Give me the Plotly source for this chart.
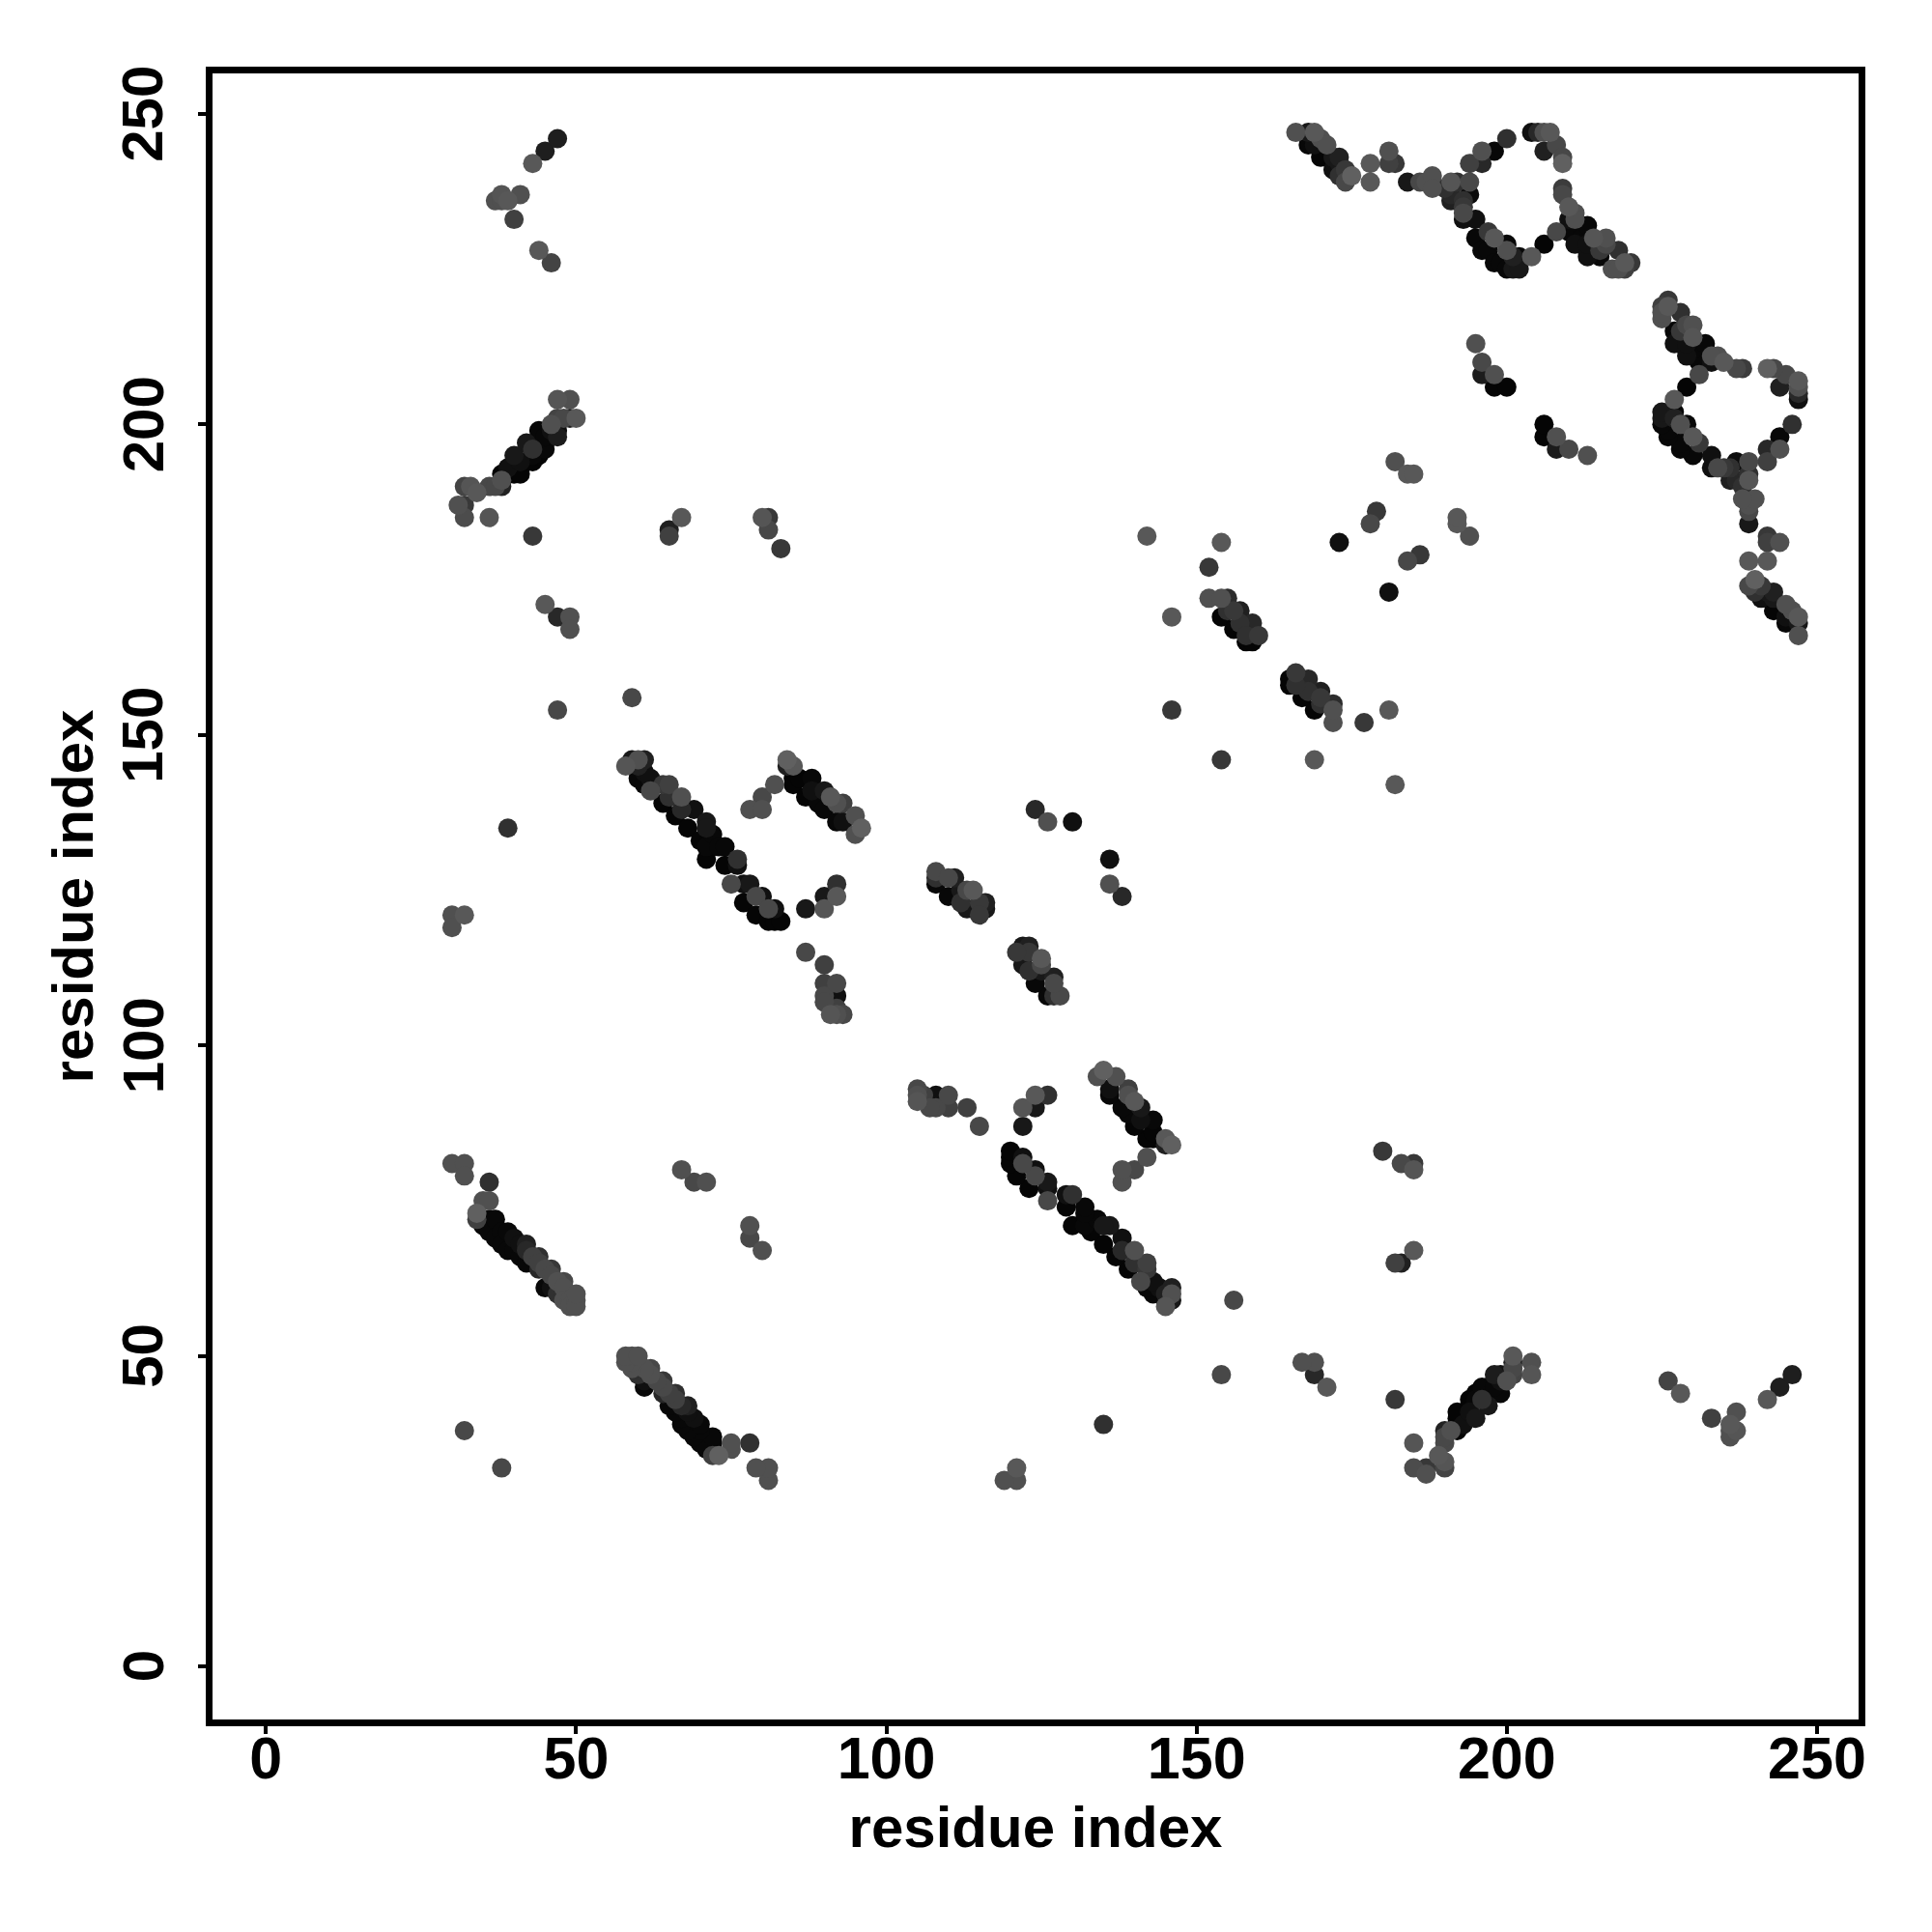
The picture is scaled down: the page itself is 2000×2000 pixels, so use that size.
import plotly.graph_objects as go

# Contacts (residue i, residue j, grey level); the map is symmetric and drawn for (i,j) and (j,i).
far_contacts = [
    (47,246,0x1e),(45,244,0x1e),(43,242,0x58),(41,237,0x50),(38,237,0x55),(37,236,0x50),(39,236,0x58),(38,236,0x50),
    (40,233,0x40),(44,228,0x58),(46,226,0x44),
    (47,204,0x55),(49,204,0x50),(47,154,0x48),(59,156,0x48),(39,135,0x30),(30,121,0x50),(32,121,0x58),(30,119,0x50),
    (30,81,0x50),(32,81,0x50),(32,79,0x50),(36,78,0x30),(32,38,0x48),
    (32,190,0x44),(33,190,0x55),(34,189,0x58),(31,187,0x50),(32,187,0x38),(32,185,0x4c),(36,185,0x55),(43,182,0x38),
    (67,185,0x58),(65,183,0x20),(65,182,0x40),(80,185,0x55),(81,185,0x38),(81,183,0x48),(83,180,0x38),
    (45,171,0x58),(47,169,0x28),(49,169,0x50),(49,167,0x50),
    (67,80,0x50),(69,78,0x48),(71,78,0x50),
]
strand_38_190 = [
    (36,190,0x48),(37,190,0x48),(38,190,0x22),(38,191,0x50),(38,192,0x05),(39,192,0x05),(39,193,0x10),(40,192,0x05),
    (41,192,0x05),(40,195,0x18),(41,194,0x10),(42,194,0x05),(43,194,0x05),(42,197,0x18),(43,196,0x30),(43,195,0x08),
    (44,195,0x05),(44,197,0x05),(45,196,0x08),(45,197,0x05),(44,199,0x08),(45,198,0x08),(46,199,0x10),(46,200,0x50),
    (47,198,0x1c),(47,199,0x10),(47,201,0x44),(48,201,0x48),(49,201,0x20),(50,201,0x58),
]
strand_34_72 = [
    (35,75,0x50),(36,75,0x50),(34,73,0x60),(34,72,0x40),(35,72,0x08),(36,72,0x08),(37,72,0x08),(35,71,0x08),(36,70,0x08),
    (38,70,0x08),(39,70,0x08),(37,69,0x08),(38,68,0x08),(39,67,0x08),(41,68,0x10),(40,67,0x08),(42,67,0x28),(43,66,0x40),
    (44,65,0x40),(41,66,0x08),(42,65,0x08),(44,64,0x28),(45,64,0x48),(46,63,0x48),(45,61,0x08),(46,61,0x10),(47,62,0x50),
    (48,61,0x50),(47,60,0x30),(48,59,0x50),(49,59,0x50),(50,59,0x50),(49,58,0x50),(50,58,0x50),
    (50,60,0x50),(48,60,0x30),(48,62,0x48),(44,66,0x30),(42,68,0x20),(40,69,0x10),(46,64,0x38),
]
strand_60_145 = [
    (58,145,0x55),(59,146,0x18),(60,146,0x50),(61,146,0x20),(60,145,0x20),(59,145,0x05),(62,143,0x10),(61,144,0x10),
    (60,143,0x08),(61,142,0x08),(62,141,0x48),(64,142,0x38),(65,142,0x40),(64,139,0x05),(67,140,0x50),(69,138,0x10),
    (66,137,0x05),(68,135,0x05),(71,136,0x18),(71,135,0x18),(70,133,0x05),(71,132,0x08),(71,130,0x05),(74,132,0x08),
    (73,132,0x08),(74,129,0x05),(76,130,0x30),(76,129,0x10),(75,126,0x48),(77,126,0x10),(78,126,0x18),(77,123,0x05),
    (80,124,0x10),(79,121,0x05),(82,122,0x10),(81,120,0x05),(82,120,0x05),(83,120,0x05),(65,140,0x30),(67,138,0x28),
    (72,134,0x08),(79,124,0x48),(81,122,0x48),
]
strand_85_140 = [
    (84,146,0x60),(85,145,0x58),(84,145,0x20),(85,143,0x05),(86,143,0x05),(88,143,0x08),(85,142,0x05),(87,140,0x05),
    (88,141,0x10),(90,141,0x18),(91,140,0x58),(89,139,0x08),(90,138,0x08),(92,139,0x50),(93,139,0x40),(92,136,0x08),
    (93,136,0x10),(95,137,0x50),(96,135,0x60),(95,134,0x50),(82,142,0x50),(80,140,0x48),(78,138,0x50),(80,138,0x50),
    (92,126,0x30),(90,124,0x18),(92,124,0x58),(90,122,0x55),(87,122,0x18),
    (87,115,0x48),(90,113,0x40),(90,110,0x40),(92,110,0x48),(90,108,0x48),(92,108,0x10),(91,105,0x55),(93,105,0x48),(92,106,0x40),
    (105,92,0x50),(105,91,0x50),(108,92,0x18),(107,90,0x48),(110,92,0x40),(110,90,0x48),(113,90,0x48),(115,87,0x48),
    (124,138,0x28),(126,136,0x50),(130,136,0x10),
]
strand_108_128 = [
    (108,128,0x48),(108,126,0x08),(108,127,0x30),(110,127,0x48),(111,127,0x20),(110,124,0x08),(112,125,0x18),(113,125,0x48),
    (114,125,0x58),(113,122,0x18),(115,123,0x38),(116,123,0x20),(116,122,0x18),(115,121,0x38),(112,123,0x30),
]
strand_155_168 = [
    (152,172,0x50),(154,172,0x50),(155,172,0x2c),(154,169,0x05),(155,170,0x30),(157,170,0x20),(156,167,0x05),(156,170,0x38),
    (157,168,0x30),(159,168,0x28),(158,165,0x05),(159,165,0x05),(160,166,0x38),(158,166,0x30),(152,177,0x38),(146,169,0x58),
    (146,154,0x38),(154,146,0x38),(154,181,0x58),(142,182,0x58),(169,146,0x58),(182,142,0x58),
    (173,181,0x10),(178,184,0x48),(179,186,0x38),(181,173,0x10),(182,194,0x50),(184,192,0x58),(185,192,0x58),(192,185,0x60),
    (192,184,0x58),(194,182,0x48),
]
strand_170_240 = [
    (166,247,0x50),(168,247,0x18),(169,247,0x58),(168,245,0x08),(170,246,0x50),(170,243,0x05),(171,245,0x50),(172,243,0x18),
    (173,243,0x20),(172,241,0x10),(174,241,0x38),(175,240,0x60),(174,239,0x48),(173,240,0x30),
    (178,242,0x58),(178,239,0x58),(181,244,0x50),(181,242,0x40),(182,242,0x38),
    (184,239,0x18),(186,239,0x48),(187,239,0x50),(188,240,0x50),(188,238,0x50),(191,239,0x55),(192,239,0x30),(194,239,0x48),
    (191,237,0x28),(192,236,0x20),(193,236,0x30),(194,237,0x0c),(193,234,0x48),(193,233,0x10),(195,233,0x10),(195,230,0x08),
    (197,231,0x38),(198,230,0x58),(197,228,0x08),(200,229,0x08),(199,226,0x08),(201,227,0x20),(202,227,0x08),(201,225,0x18),
    (202,225,0x18),(204,227,0x58),(194,242,0x40),(196,244,0x50),(196,242,0x28),(198,244,0x08),(200,246,0x30),
    (204,247,0x10),(205,247,0x28),(206,247,0x50),(207,247,0x58),(206,244,0x20),(208,245,0x48),(209,243,0x48),(209,242,0x60),
    (209,237,0x48),(210,235,0x58),(211,234,0x50),(210,231,0x08),(208,231,0x48),(206,229,0x05),(212,232,0x05),(212,230,0x08),
    (211,229,0x10),(214,230,0x55),(213,227,0x10),(215,228,0x38),(218,228,0x30),(217,225,0x50),(218,225,0x50),(220,226,0x38),
    (219,226,0x58),(213,229,0x10),
]
strand_200_228 = [
    (219,225,0x40),(215,227,0x08),(216,230,0x50),(216,229,0x48),(212,229,0x08),
    (213,232,0x08),(210,233,0x10),(211,233,0x50),(211,234,0x48),(209,238,0x3c),
    (202,225,0x05),(200,225,0x08),(200,228,0x50),(198,226,0x08),(196,228,0x08),
    (195,230,0x0c),(193,235,0x38),(194,239,0x50),
    (191,236,0x20),(190,238,0x30),(188,240,0x40),(174,239,0x50),(173,242,0x18),
    (169,245,0x10),
    (195,213,0x50),(196,210,0x48),(198,208,0x50),(196,208,0x1c),(198,206,0x05),(200,206,0x05),
]

groups = [far_contacts, strand_38_190, strand_34_72, strand_60_145, strand_85_140, strand_108_128,
          strand_155_168, strand_170_240, strand_200_228]
seen = {}
for group in groups:
    for i, j, grey in group:
        seen.setdefault((min(i, j), max(i, j)), grey)
rows = sorted(((a, b, g) for (a, b), g in seen.items()), key=lambda r: (r[2], r[0]))
x_values = [r[0] for r in rows] + [r[1] for r in rows]
y_values = [r[1] for r in rows] + [r[0] for r in rows]
grey_values = [r[2] for r in rows] + [r[2] for r in rows]

tick_values = [0, 50, 100, 150, 200, 250]
axis_label = "residue index"

bold = dict(family="Liberation Sans", color="black", weight="bold")
fig = go.Figure(go.Scatter(
    x=x_values, y=y_values, mode="markers",
    marker=dict(size=20, color=grey_values, cmin=0, cmax=255,
                colorscale=[[0, "#000000"], [1, "#ffffff"]], showscale=False, line=dict(width=0)),
))
axis = dict(tickmode="array", tickvals=tick_values, ticks="outside", ticklen=8, tickwidth=4,
            tickcolor="black", showgrid=False, zeroline=False, showline=True, linewidth=7, linecolor="black",
            mirror=True)
fig.update_xaxes(**axis, range=[-8.6, 256.7], ticklabelstandoff=-27, tickfont=dict(size=61, **bold),
                 title=dict(text=axis_label, standoff=19, font=dict(size=60, **bold)))
fig.update_yaxes(**axis, range=[-8.5, 256.5], showticklabels=False,
                 title=dict(text=axis_label, standoff=92, font=dict(size=60, **bold)))
for value in tick_values:
    fig.add_annotation(x=0, xref="paper", xshift=-72, y=value, yref="y", text=str(value), showarrow=False,
                       textangle=-90, xanchor="center", yanchor="middle", font=dict(size=60, **bold))
fig.update_layout(width=2000, height=2000, margin=dict(l=212, r=84, t=68, b=228, autoexpand=False),
                  paper_bgcolor="white", plot_bgcolor="white", showlegend=False)
fig.write_html("out.html")
